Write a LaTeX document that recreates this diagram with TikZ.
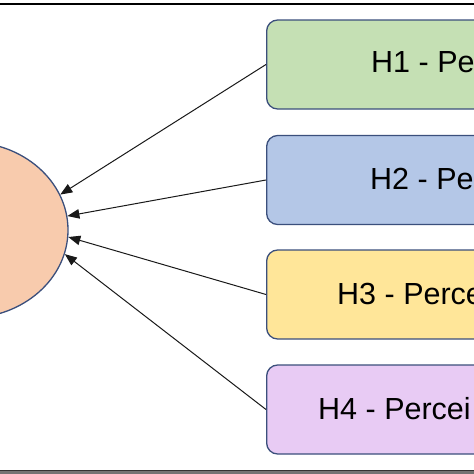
\documentclass[tikz,border=0pt]{standalone}
\usepackage{fontspec}
\setmainfont{Liberation Sans}
\usetikzlibrary{shapes.geometric,arrows.meta}
\definecolor{edgeblue}{HTML}{3B4F7C}
\definecolor{fillorange}{HTML}{F8CBAD}
\definecolor{fillgreen}{HTML}{C5E0B4}
\definecolor{fillblue}{HTML}{B4C7E7}
\definecolor{fillyellow}{HTML}{FFE699}
\definecolor{fillpurple}{HTML}{E8CBF4}
\tikzset{
  hbox/.style={draw=edgeblue, line width=1.3pt, rounded corners=11pt, rectangle,
    minimum width=300pt, minimum height=89pt, anchor=west, inner sep=0pt},
  htext/.style={anchor=west, inner sep=0pt, font=\fontsize{30.5}{36}\selectfont, text=black},
  arr/.style={draw=black!90, line width=1pt, -{Triangle[length=12pt,width=9.5pt]}},
}
\begin{document}
\begin{tikzpicture}[x=1pt,y=-1pt]
\useasboundingbox (0,0) rectangle (474,474);
\clip (0,0) rectangle (474,474);
\fill[white] (0,0) rectangle (474,474);
\node[ellipse, draw=edgeblue, line width=1.3pt, fill=fillorange,
  minimum width=200pt, minimum height=176pt, inner sep=0pt] (e) at (-32,230) {};
\node[hbox, fill=fillgreen]  (b1) at (266,64.5) {};
\node[hbox, fill=fillblue]   (b2) at (266,180) {};
\node[hbox, fill=fillyellow] (b3) at (266,294.5) {};
\node[hbox, fill=fillpurple] (b4) at (266,409.5) {};
\node[htext] (t1) at (371,62.5) {H1 - Pe};
\node[htext] (t2) at (370,179) {H2 - Pe};
\node[htext] (t3) at (337,294) {H3 - Perce};
\node[htext] (t4) at (318,409) {H4 - Percei};
\draw[arr] (b1.west) -- (e.21.7);
\draw[arr] (b2.west) -- (e.8.5);
\draw[arr] (b3.west) -- (e.-4);
\draw[arr] (b4.west) -- (e.-14.6);
\draw[black, line width=2pt] (0,4.3) -- (474,4.3);
\fill[black!55] (0,470) rectangle (474,474);
\draw[black!80, line width=1pt] (0,470) -- (474,470);
\end{tikzpicture}
\end{document}
